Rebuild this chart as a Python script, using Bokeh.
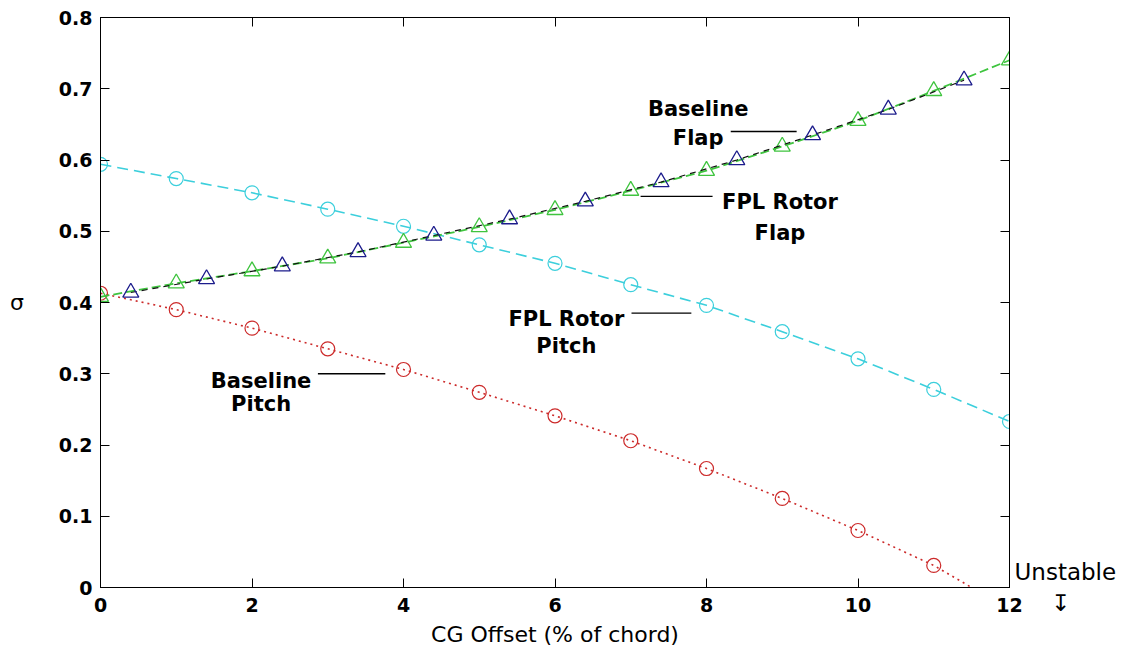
from bokeh.plotting import figure
from bokeh.models import (LinearAxis, FixedTicker, Label, Arrow, CustomLabelingPolicy)
from bokeh.embed import file_html
from bokeh.resources import INLINE

# ---------------- data ----------------
pitch_x = [0, 1, 2, 3, 4, 5, 6, 7, 8, 9, 10, 11]
baseline_pitch = [0.413, 0.390, 0.364, 0.335, 0.306, 0.274, 0.241, 0.206, 0.167, 0.125, 0.080, 0.031]
baseline_pitch_zero_x = 11.5   # baseline pitch mode crosses zero (unstable)

fpl_x = [0, 1, 2, 3, 4, 5, 6, 7, 8, 9, 10, 11, 12]
fpl_rotor_pitch = [0.594, 0.574, 0.554, 0.531, 0.507, 0.481, 0.455, 0.425, 0.396, 0.359, 0.321, 0.278, 0.233]
fpl_rotor_flap = [0.408, 0.427, 0.444, 0.462, 0.484, 0.506, 0.530, 0.557, 0.585, 0.619, 0.655, 0.697, 0.740]

flap_x = [0.4, 1.4, 2.4, 3.4, 4.4, 5.4, 6.4, 7.4, 8.4, 9.4, 10.4, 11.4]
baseline_flap = [0.414, 0.433, 0.451, 0.471, 0.494, 0.517, 0.542, 0.569, 0.600, 0.635, 0.671, 0.712]

x_ticks = [0, 2, 4, 6, 8, 10, 12]
y_ticks = [0, 0.1, 0.2, 0.3, 0.4, 0.5, 0.6, 0.7, 0.8]
y_tick_labels = ["0", "0.1", "0.2", "0.3", "0.4", "0.5", "0.6", "0.7", "0.8"]

x_title = "CG Offset (% of chord)"
y_title = "\u03c3"
unstable_text = "Unstable\n" + "\u00a0" * 5 + "\u21a7"
unstable_at = 0.0

# ---------------- styles ----------------
RED = "#cc2a2a"
CYAN = "#3ccfdc"
GREEN = "#3fc43f"
NAVY = "#1c1c8c"
FONT = "DejaVu Sans"

p = figure(width=1131, height=654, x_range=(0, 12), y_range=(0, 0.8),
           output_backend="svg", toolbar_location=None,
           min_border_left=100, min_border_right=122,
           min_border_top=17, min_border_bottom=67)
p.background_fill_color = "white"
p.border_fill_color = "white"
p.outline_line_color = "black"
p.outline_line_width = 1
p.xgrid.grid_line_color = None
p.ygrid.grid_line_color = None

# main axes
for ax, tk in ((p.xaxis[0], FixedTicker(ticks=x_ticks)), (p.yaxis[0], FixedTicker(ticks=y_ticks))):
    ax.ticker = tk
    ax.major_tick_in = 9
    ax.major_tick_out = 0
    ax.minor_tick_line_color = None
    ax.axis_line_color = "black"
    ax.major_tick_line_color = "black"
    ax.major_label_text_font = FONT
    ax.major_label_text_font_style = "bold"
    ax.major_label_text_font_size = "19px"
    ax.major_label_text_color = "black"
p.yaxis[0].major_label_overrides = {v: s for v, s in zip(y_ticks, y_tick_labels)}
p.yaxis[0].major_label_standoff = 8
p.yaxis[0].axis_label = y_title
p.yaxis[0].axis_label_orientation = "horizontal"
p.yaxis[0].axis_label_text_font = FONT
p.yaxis[0].axis_label_text_font_style = "normal"
p.yaxis[0].axis_label_text_font_size = "22px"
p.yaxis[0].axis_label_text_color = "black"
p.yaxis[0].axis_label_standoff = 32

p.xaxis[0].major_label_standoff = 10
p.xaxis[0].axis_label = x_title
p.xaxis[0].axis_label_text_font = FONT
p.xaxis[0].axis_label_text_font_style = "normal"
p.xaxis[0].axis_label_text_font_size = "22px"
p.xaxis[0].axis_label_text_color = "black"
p.xaxis[0].axis_label_standoff = 7

# mirrored tick marks (no labels) on top and right
no_labels = CustomLabelingPolicy(code="if (false) { yield 0 }")
for loc, tk in (("above", FixedTicker(ticks=x_ticks)), ("right", FixedTicker(ticks=y_ticks))):
    a = LinearAxis(ticker=tk, major_tick_in=9, major_tick_out=0,
                   minor_tick_line_color=None, axis_line_color="black",
                   major_label_policy=no_labels, major_label_standoff=0,
                   major_label_text_font_size="1px")
    p.add_layout(a, loc)

# "Unstable" note just outside the frame, bottom right (text with arrow below)
ua = LinearAxis(ticker=FixedTicker(ticks=[unstable_at]),
                major_label_overrides={unstable_at: unstable_text},
                major_tick_in=0, major_tick_out=0, minor_tick_line_color=None,
                axis_line_color=None, major_label_standoff=1,
                major_label_text_font=FONT, major_label_text_font_style="normal",
                major_label_text_font_size="23px", major_label_text_color="black")
p.add_layout(ua, "right")

# ---------------- series ----------------
p.line(pitch_x + [baseline_pitch_zero_x], baseline_pitch + [0.0],
       line_color=RED, line_width=1.6, line_dash="2 4")
p.scatter(pitch_x, baseline_pitch, marker="circle", size=14,
          line_color=RED, line_width=1.2, fill_color=None)

p.line(fpl_x, fpl_rotor_pitch, line_color=CYAN, line_width=1.6, line_dash="11 6")
p.scatter(fpl_x, fpl_rotor_pitch, marker="circle", size=14,
          line_color=CYAN, line_width=1.2, fill_color=None)

p.line(fpl_x, fpl_rotor_flap, line_color=GREEN, line_width=1.8, line_dash="9 4")
p.scatter(fpl_x, fpl_rotor_flap, marker="triangle", size=16,
          line_color=GREEN, line_width=1.3, fill_color=None)

p.line(flap_x, baseline_flap, line_color="#111111", line_width=1.2, line_dash="6 5")
p.scatter(flap_x, baseline_flap, marker="triangle", size=16,
          line_color=NAVY, line_width=1.3, fill_color=None)

# ---------------- annotations ----------------
def txt(s, x, y, size="21px"):
    p.add_layout(Label(x=x, y=y, text=s, text_align="center", text_baseline="alphabetic",
                       text_font=FONT, text_font_style="bold",
                       text_font_size=size, text_color="black"))

def leader(x0, x1, y):
    p.add_layout(Arrow(end=None, x_start=x0, y_start=y, x_end=x1, y_end=y,
                       line_color="black", line_width=1.3))

txt("Baseline", 7.89, 0.672)
txt("Flap", 7.89, 0.631)
leader(8.32, 9.19, 0.640)

txt("FPL Rotor", 8.97, 0.541)
txt("Flap", 8.97, 0.4975)
leader(7.13, 8.08, 0.549)

txt("FPL Rotor", 6.15, 0.377)
txt("Pitch", 6.15, 0.339)
leader(7.01, 7.80, 0.385)

txt("Baseline", 2.12, 0.290)
txt("Pitch", 2.12, 0.257)
leader(2.87, 3.76, 0.300)

open("out.html", "w").write(file_html(p, INLINE))
